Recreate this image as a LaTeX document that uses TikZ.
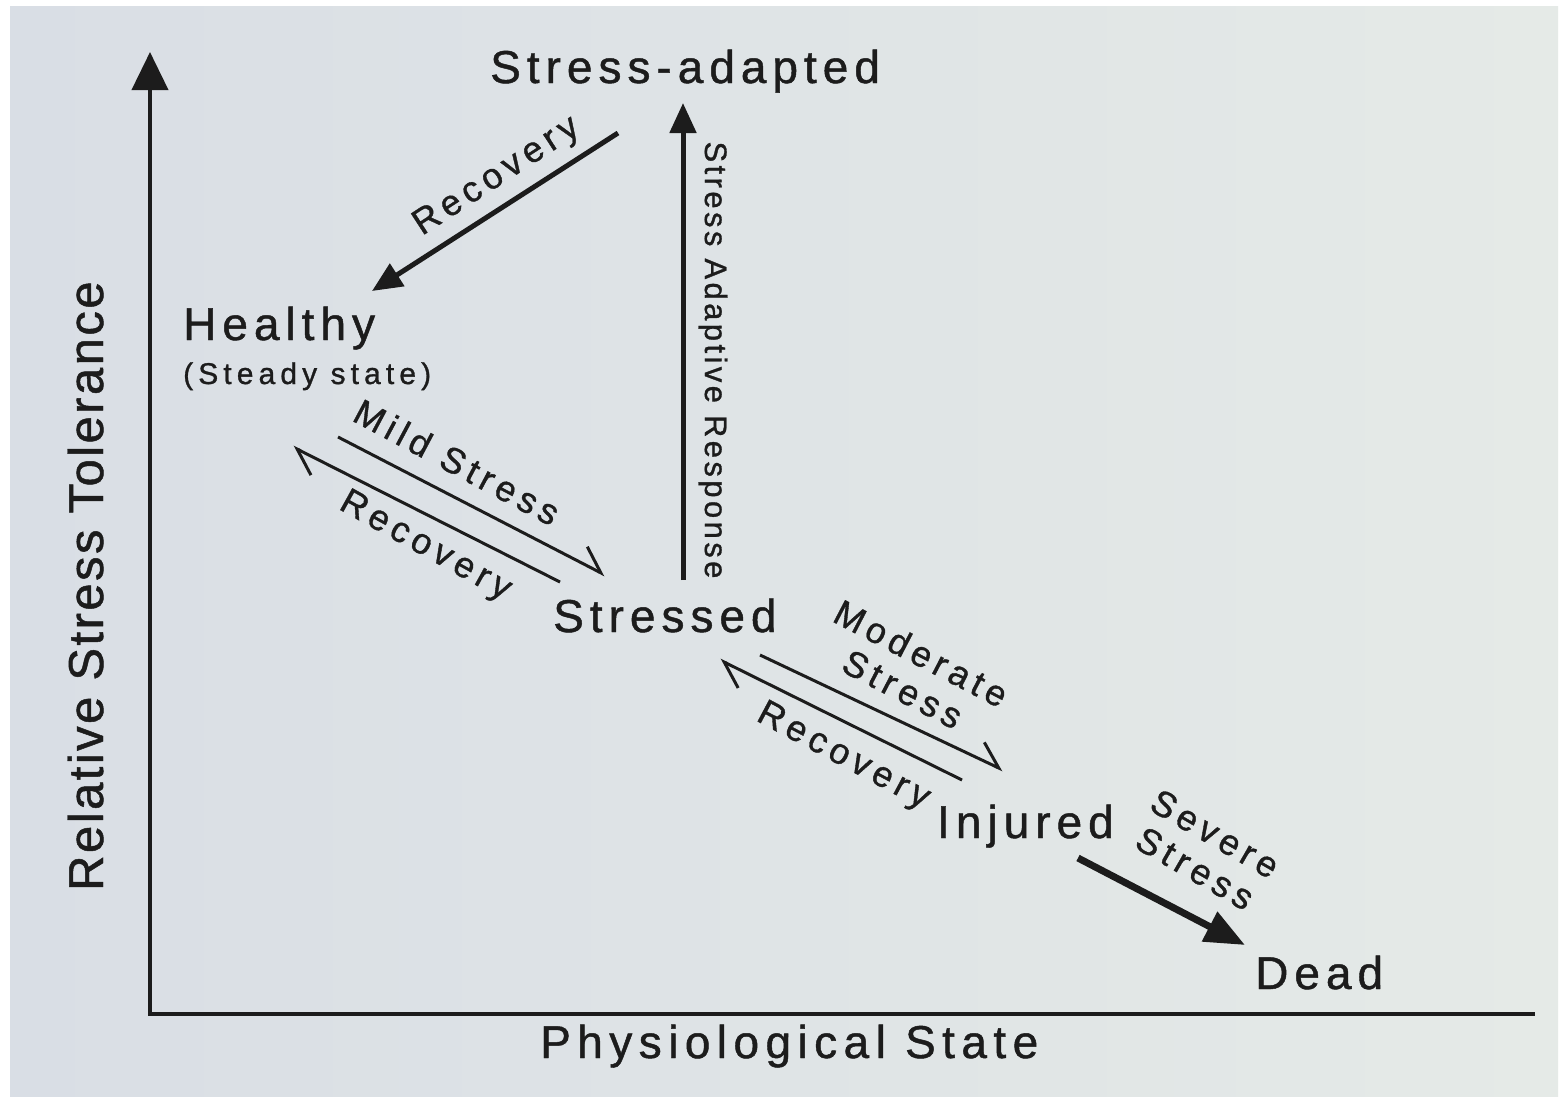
\documentclass[tikz,border=0pt]{standalone}
\usepackage{fontspec}
\setmainfont{Liberation Sans}
\usetikzlibrary{arrows.meta}
\definecolor{bgL}{HTML}{D9DEE5}
\definecolor{bgR}{HTML}{E5EAE7}
\definecolor{ink}{HTML}{1C1C1C}
\newcommand{\statefont}{\fontsize{46}{50}\selectfont\addfontfeature{LetterSpace=13,FakeBold=1}}
\newcommand{\axisfont}{\fontsize{46}{50}\selectfont\addfontfeature{LetterSpace=14,FakeBold=1}}
\newcommand{\yaxisfont}{\fontsize{49}{52}\selectfont\addfontfeature{LetterSpace=5,FakeBold=1}}
\newcommand{\smallfont}{\fontsize{36}{40}\selectfont\addfontfeature{LetterSpace=15,FakeBold=1}}
\newcommand{\subfont}{\fontsize{30}{34}\selectfont\addfontfeature{LetterSpace=17,FakeBold=1}}
\newcommand{\vertfont}{\fontsize{31}{34}\selectfont\addfontfeature{LetterSpace=11,FakeBold=1}}
\begin{document}
\begin{tikzpicture}[x=1pt,y=-1pt,
  txt/.style={inner sep=0pt, text=ink},
  statelab/.style={txt, anchor=base west, font=\statefont},
  arrlab/.style={txt, font=\smallfont, align=center},
  thinline/.style={draw=ink, line width=3pt},
  harp/.style={thinline, -{Straight Barb[harpoon,length=24pt,width=34pt,line width=3pt]}},
  bigarrow/.style={draw=ink, line width=5pt, -{Triangle[length=30pt,width=26pt]}},
  axisline/.style={draw=ink, line width=4pt}]
\useasboundingbox (0,0) rectangle (1568,1103);
\fill[white] (0,0) rectangle (1568,1103);
\shade[left color=bgL, right color=bgR] (10,6) rectangle (1558,1096);

% axes
\coordinate (O) at (150,1014);
\coordinate (ytop) at (150,52);
\coordinate (xend) at (1535,1014);
\draw[axisline, -{Triangle[length=38pt,width=36pt]}] (O) -- (ytop);
\draw[axisline] (148,1014) -- (xend);
\node[txt, anchor=base west, rotate=90, font=\yaxisfont] (ylab) at (103,891) {Relative Stress Tolerance};
\node[txt, anchor=base west, font=\axisfont] (xlab) at (540,1058) {Physiological State};

% states
\node[statelab] (adapted) at (490,83) {Stress-adapted};
\node[statelab] (healthy) at (183,340) {Healthy};
\node[txt, anchor=base west, font=\subfont] (steady) at (183,384) {(Steady state)};
\node[statelab] (stressed) at (553,632) {Stressed};
\node[statelab] (injured) at (937,838) {Injured};
\node[statelab] (dead) at (1255,989) {Dead};

% recovery from stress-adapted to healthy
\coordinate (ra1) at (618,133);
\coordinate (ra2) at (372,291);
\draw[bigarrow] (ra1) -- (ra2);
\node[arrlab, rotate=33] (lrec1) at (497,177) {Recovery};

% stress adaptive response
\coordinate (sa1) at (683,580);
\coordinate (sa2) at (683,103);
\draw[bigarrow] (sa1) -- (sa2);
\node[txt, rotate=-90, font=\vertfont] (lsar) at (713,360) {Stress Adaptive Response};

% healthy <-> stressed
\coordinate (m1) at (338,437);
\coordinate (m2) at (605,575);
\draw[harp] (m1) -- (m2);
\coordinate (h1) at (560,582);
\coordinate (h2) at (293,447);
\draw[harp] (h1) -- (h2);
\node[arrlab, rotate=-28] (lmild) at (457,462) {Mild Stress};
\node[arrlab, rotate=-29] (lrec2) at (425,547) {Recovery};

% stressed <-> injured
\coordinate (d1) at (760,655);
\coordinate (d2) at (1003,770);
\draw[harp] (d1) -- (d2);
\coordinate (i1) at (962,780);
\coordinate (i2) at (720,660);
\draw[harp] (i1) -- (i2);
\node[arrlab, rotate=-27.5] (lmod) at (912,671) {Moderate\\Stress};
\node[arrlab, rotate=-28] (lrec3) at (843,757) {Recovery};

% injured -> dead
\coordinate (s1) at (1078,858);
\coordinate (s2) at (1245,945);
\draw[draw=ink, line width=7pt, -{Triangle[length=40pt,width=32pt]}] (s1) -- (s2);
\node[arrlab, rotate=-30] (lsev) at (1205,851) {Severe\\Stress};
\end{tikzpicture}
\end{document}
